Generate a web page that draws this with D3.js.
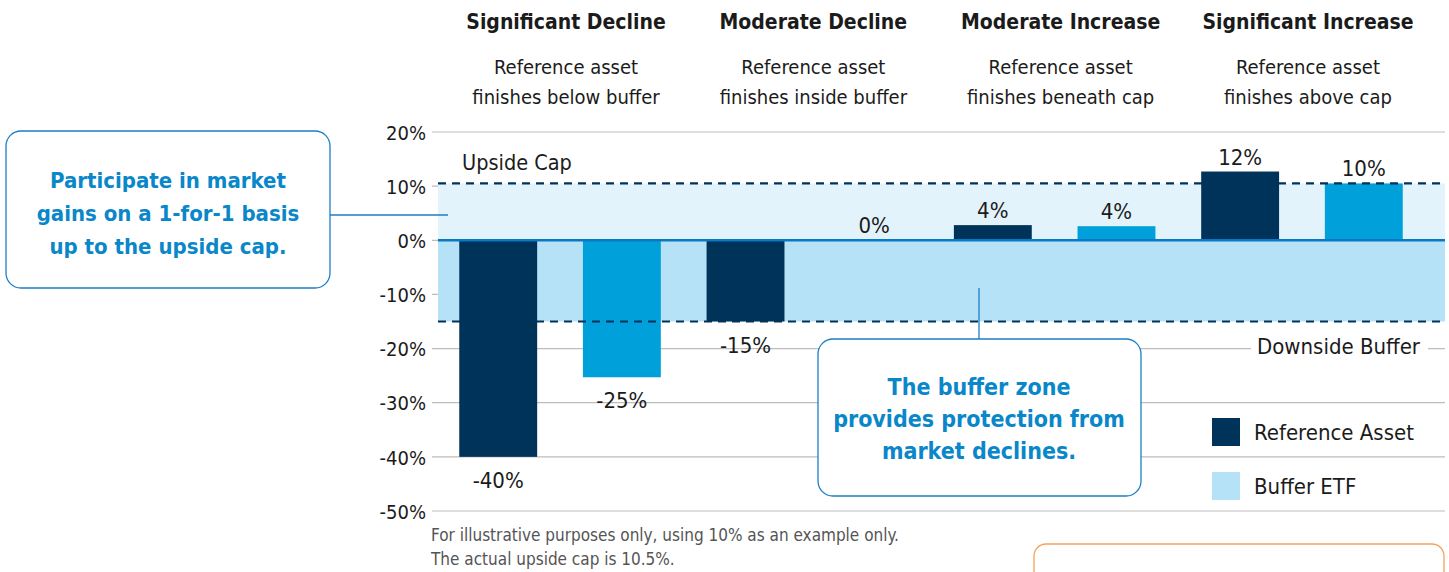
<!DOCTYPE html>
<html><head><meta charset="utf-8">
<script src="https://cdn.jsdelivr.net/npm/d3@7"></script>
<style>
html,body{margin:0;padding:0;background:#fff;}
text{font-family:"Liberation Sans Narrow","DejaVu Sans Condensed","Open Sans",sans-serif;}
</style></head>
<body><svg id="c" width="1449" height="572"></svg>
<script>
// ---- data ----
const scenarios = ["Significant Decline","Moderate Decline","Moderate Increase","Significant Increase"];
const scenarioNotes = [["Reference asset","finishes below buffer"],["Reference asset","finishes inside buffer"],["Reference asset","finishes beneath cap"],["Reference asset","finishes above cap"]];
const series = ["Reference Asset","Buffer ETF"];
const referenceValues = [-40, -15, 2.8, 12.7];
const etfValues = [-25.3, 0, 2.6, 10.5];
const referenceLabels = ["-40%","-15%","4%","12%"];
const etfLabels = ["-25%","0%","4%","10%"];
const yTicks = [20,10,0,-10,-20,-30,-40,-50];
const upsideCap = 10.5;
const downsideBuffer = -15;
const footnotes = ["For illustrative purposes only, using 10% as an example only.","The actual upside cap is 10.5%."];

// ---- setup ----
const svg = d3.select("#c");
const C = {dark:"#003359", etf:"#00a0da", bandUp:"#e3f3fc", bandDown:"#b5e2f7", zero:"#0a78c2", grid:"#bdbdbd", callout:"#1a7fc6", calloutText:"#0a87c9", text:"#1b1b1b"};
const y = d3.scaleLinear().domain([-50,20]).range([511,132]);
const x0 = 438, x1 = 1445;

const bars = [];
scenarios.forEach((s,i)=>{
  bars.push({key:s+"|r", group:i, series:0, v:referenceValues[i], label:referenceLabels[i]});
  bars.push({key:s+"|e", group:i, series:1, v:etfValues[i], label:etfLabels[i]});
});
const x = d3.scaleBand().domain(bars.map(d=>d.key)).range([437,1425]).paddingInner(0.37).paddingOuter(0.18);

// gridlines
svg.append("g").selectAll("line").data(yTicks).join("line")
  .attr("x1",432).attr("x2",x1).attr("y1",d=>y(d)).attr("y2",d=>y(d))
  .attr("stroke",C.grid).attr("stroke-width",1.2);
// y axis labels
const yAxis = d3.axisLeft(y).tickValues(yTicks).tickFormat(d=>d+"%").tickSize(0).tickPadding(0);
const ya = svg.append("g").attr("transform","translate(426,0)").call(yAxis);
ya.select(".domain").remove();
ya.selectAll("text").attr("font-size",20).attr("fill",C.text).attr("dy","0.36em")
  .style("font-family",'"Liberation Sans Narrow","DejaVu Sans Condensed",sans-serif');

// bands
svg.append("rect").attr("x",x0).attr("width",x1-x0).attr("y",y(upsideCap)).attr("height",y(0)-y(upsideCap)).attr("fill",C.bandUp);
svg.append("rect").attr("x",x0).attr("width",x1-x0).attr("y",y(0)).attr("height",y(downsideBuffer)-y(0)).attr("fill",C.bandDown);

// bars
svg.append("g").selectAll("rect").data(bars).join("rect")
  .attr("x",d=>x(d.key)).attr("width",x.bandwidth())
  .attr("y",d=>y(Math.max(0,d.v))).attr("height",d=>Math.abs(y(d.v)-y(0)))
  .attr("fill",d=>d.series===0?C.dark:C.etf);

// zero line
svg.append("line").attr("x1",x0).attr("x2",x1).attr("y1",y(0)).attr("y2",y(0)).attr("stroke",C.zero).attr("stroke-width",2.5);
// dashed lines
[upsideCap, downsideBuffer].forEach(v=>{
  svg.append("line").attr("x1",x0).attr("x2",x1).attr("y1",y(v)).attr("y2",y(v))
    .attr("stroke",C.dark).attr("stroke-width",2.2).attr("stroke-dasharray","8,6");
});

// bar labels
svg.append("g").selectAll("text").data(bars).join("text")
  .attr("x",d=>x(d.key)+x.bandwidth()/2 + (d.v===0?5:0))
  .attr("y",d=>d.v<0 ? y(d.v)+31 : y(d.v)-7)
  .attr("text-anchor","middle").attr("font-size",22).attr("fill",C.text).text(d=>d.label);

// Upside cap label
svg.append("text").attr("x",462).attr("y",170).attr("font-size",21.5).attr("fill",C.text).text("Upside Cap");
// Downside buffer label with white background
svg.append("rect").attr("x",1251).attr("y",335).attr("width",177).attr("height",26).attr("fill","#fff");
svg.append("text").attr("x",1257).attr("y",354).attr("font-size",22).attr("fill",C.text).text("Downside Buffer");

// headers
scenarios.forEach((s,i)=>{
  const cx = (x(bars[i*2].key) + x(bars[i*2+1].key)+x.bandwidth())/2 + 6;
  svg.append("text").attr("x",cx).attr("y",29).attr("text-anchor","middle").attr("font-size",21).attr("font-weight","bold").attr("fill",C.text).text(s);
  scenarioNotes[i].forEach((t,j)=>{
    svg.append("text").attr("x",cx).attr("y",74+j*30).attr("text-anchor","middle").attr("font-size",20).attr("fill",C.text).text(t);
  });
});

// callout left
svg.append("line").attr("x1",330).attr("x2",448).attr("y1",215).attr("y2",215).attr("stroke",C.callout).attr("stroke-width",1.3);
svg.append("rect").attr("x",6).attr("y",131).attr("width",324).attr("height",157).attr("rx",15).attr("fill","#fff").attr("stroke",C.callout).attr("stroke-width",1.3);
["Participate in market","gains on a 1-for-1 basis","up to the upside cap."].forEach((t,j)=>{
  svg.append("text").attr("x",168).attr("y",188+j*33).attr("text-anchor","middle").attr("font-size",22).attr("font-weight","bold").attr("fill",C.calloutText).text(t);
});
// callout center
svg.append("line").attr("x1",979).attr("x2",979).attr("y1",288).attr("y2",339).attr("stroke",C.callout).attr("stroke-width",1.3);
svg.append("rect").attr("x",818).attr("y",339).attr("width",323).attr("height",157).attr("rx",15).attr("fill","#fff").attr("stroke",C.callout).attr("stroke-width",1.3);
["The buffer zone","provides protection from","market declines."].forEach((t,j)=>{
  svg.append("text").attr("x",979).attr("y",395+j*32).attr("text-anchor","middle").attr("font-size",23).attr("font-weight","bold").attr("fill",C.calloutText).text(t);
});

// legend
series.forEach((s,i)=>{
  svg.append("rect").attr("x",1212).attr("y",418+i*54).attr("width",28).attr("height",28).attr("fill",i===0?C.dark:C.bandDown);
  svg.append("text").attr("x",1254).attr("y",440+i*54).attr("font-size",22).attr("fill",C.text).text(s);
});

// footnotes
footnotes.forEach((t,j)=>{
  svg.append("text").attr("x",431).attr("y",541+j*24).attr("font-size",17).attr("fill","#555").text(t);
});

// orange box (cut off)
svg.append("rect").attr("x",1034).attr("y",544).attr("width",410).attr("height",80).attr("rx",12).attr("fill","#fff").attr("stroke","#f4a259").attr("stroke-width",1.3);
</script></body></html>
